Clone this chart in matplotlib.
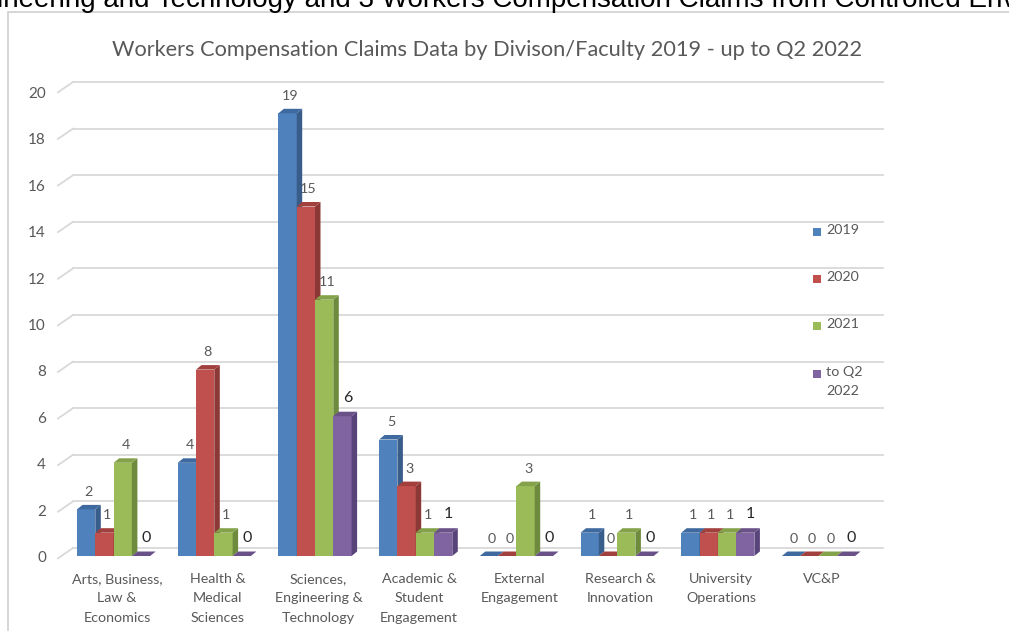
import matplotlib.pyplot as plt
from matplotlib.patches import Polygon, Rectangle

# data
categories = ["Arts, Business,\nLaw &\nEconomics", "Health &\nMedical\nSciences",
              "Sciences,\nEngineering &\nTechnology", "Academic &\nStudent\nEngagement",
              "External\nEngagement", "Research &\nInnovation", "University\nOperations", "VC&P"]
series_names = ["2019", "2020", "2021", "to Q2\n2022"]
v2019 = [2, 4, 19, 5, 0, 1, 1, 0]
v2020 = [1, 8, 15, 3, 0, 0, 1, 0]
v2021 = [4, 1, 11, 1, 3, 1, 1, 0]
vq2022 = [0, 0, 6, 1, 0, 0, 1, 0]
yticks = list(range(0, 21, 2))

front = ["#4F81BD", "#C0504D", "#9BBB59", "#8064A2"]
top = ["#3F6AA0", "#A2403D", "#84A249", "#6A5288"]
side = ["#385D8A", "#8C3836", "#6E8B3D", "#58447A"]
grey = "#595959"
font = ["Lato", "DejaVu Sans"]

W, H = 1009, 631
fig = plt.figure(figsize=(W / 100, H / 100), dpi=100)
ax = fig.add_axes([0, 0, 1, 1])
ax.axis("off")

# pixel -> data mapping (category spacing ~100.7px, 23.3px per unit)
px_unit, py_unit = 100.7, 23.3
x0px, y0px = 117, 556
ax.set_xlim((0 - x0px) / px_unit, (W - x0px) / px_unit)
ax.set_ylim((y0px - H) / py_unit, y0px / py_unit)


def X(px):
    return (px - x0px) / px_unit


def Y(py):
    return (y0px - py) / py_unit


bw = 18.3 / px_unit
ddx = 5.5 / px_unit
ddy = 4.5 / py_unit
wall = 8 / py_unit

# chart border
fig.patches.append(Rectangle((8 / W, -0.1), 1.2, 1 - 12 / H + 0.1, transform=fig.transFigure,
                             fill=False, ec="#d0d0d0", lw=1.2))

# cut-off caption text at the very top
fig.text(-3 / W, 1 - 7 / H, "ineering and Technology and 3 Workers Compensation Claims from Controlled Environments",
         family=["Liberation Sans"], fontsize=20, color="black", va="baseline", ha="left")

ax.text(X(487), Y(50),
        "Workers Compensation Claims Data by Divison/Faculty 2019 - up to Q2 2022",
        family=font, fontsize=15.7, color=grey, ha="center", va="center")

# back wall gridlines + diagonals
for t in yticks:
    ax.plot([X(73), X(883)], [t + wall, t + wall], color="#d9d9d9", lw=1.3, zorder=1)
    ax.plot([X(58), X(73)], [t - 0.1, t + wall], color="#d9d9d9", lw=1.3, zorder=1)
    ax.text(X(46), Y(558 - 23.2 * t), str(t), family=font, fontsize=11, color=grey,
            ha="right", va="center")

data = [v2019, v2020, v2021, vq2022]
for i in range(len(categories)):
    gl = i + X(77)
    for j, vals in enumerate(data):
        v = vals[i]
        xl = gl + j * bw
        xr = xl + bw
        z = 3 + i * 10 + j
        if v > 0:
            ax.add_patch(Rectangle((xl, 0), bw, v, fc=front[j], ec="none", zorder=z))
            ax.add_patch(Polygon([(xr, 0), (xr + ddx, ddy), (xr + ddx, v + ddy), (xr, v)],
                                 fc=side[j], ec="none", zorder=z))
        ax.add_patch(Polygon([(xl, v), (xr, v), (xr + ddx, v + ddy), (xl + ddx, v + ddy)],
                             fc=top[j], ec="none", zorder=z))
        if j == 3:
            ax.text(xl + bw / 2 + ddx, v + ddy + 0.3, str(v), family=font, fontsize=11.5,
                    color="#262626", ha="center", va="bottom", zorder=100)
        else:
            ax.text(xl + bw / 2 + ddx / 2, v + ddy + 0.3, str(v), family=font, fontsize=10.3,
                    color=grey, ha="center", va="bottom", zorder=100)
    ax.text(i, Y(573), categories[i], family=font, fontsize=10.3, color=grey,
            ha="center", va="top", linespacing=1.75)

# legend
leg_y = [232, 279, 326, 374]
for j, name in enumerate(series_names):
    yv = Y(leg_y[j])
    ax.add_patch(Rectangle((X(813), yv - 4 / py_unit), 8 / px_unit, 8 / py_unit, fc=front[j], ec="none"))
    ax.text(X(826), yv + 8 / py_unit, name, family=font, fontsize=10.3, color=grey,
            ha="left", va="top", linespacing=1.7)

fig.savefig("out.png", dpi=100)
